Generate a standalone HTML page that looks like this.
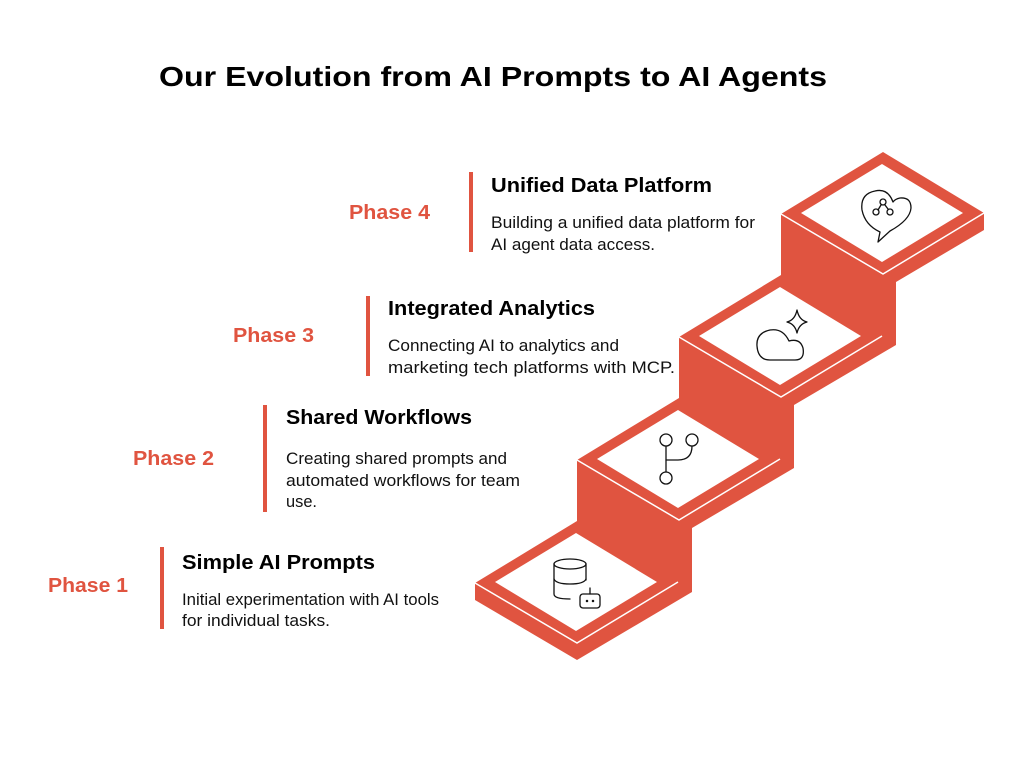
<!DOCTYPE html>
<html><head><meta charset="utf-8"><style>html,body{margin:0;padding:0;background:#fff}svg{display:block}</style></head><body>
<svg width="1030" height="767" viewBox="0 0 1030 767" xmlns="http://www.w3.org/2000/svg" font-family="Liberation Sans, Arial, sans-serif">
<rect width="1030" height="767" fill="#fff"/>
<text x="493" y="86" text-anchor="middle" font-size="28" font-weight="bold" fill="#000" textLength="668" lengthAdjust="spacingAndGlyphs">Our Evolution from AI Prompts to AI Agents</text>

<polygon fill="#E05440" points="475,583 577,521 577,460 679,398 679,337 781,275 781,214 883,152 984,213 984,230 896,282 896,345 794,405 794,468 692,528 692,592 577,660 475,600"/>
<g fill="none" stroke="#fff" stroke-width="1.5">
<polyline points="475,583 577,643 678,582"/>
<polyline points="577,460 679,520 780,459"/>
<polyline points="679,337 781,397 882,336"/>
<polyline points="781,214 883,274 984,213"/>
</g>
<g fill="#fff">
<polygon points="495,582 576,533 657,582 576,631"/>
<polygon points="597,459 678,410 759,459 678,508"/>
<polygon points="699,336 780,287 861,336 780,385"/>
<polygon points="801,213 882,164 963,213 882,262"/>
</g>
<g fill="none" stroke="#111" stroke-width="1.3" stroke-linecap="round" stroke-linejoin="round">
<ellipse cx="570" cy="564" rx="16" ry="5"/>
<path d="M554,564 V594 Q554,599 570,599"/>
<path d="M586,564 V580"/>
<path d="M554,579 Q556,584 570,584 Q584,584 586,579"/>
<rect x="580" y="594" width="20" height="14" rx="3"/>
<path d="M590,594 V588"/>
<circle cx="587" cy="601" r="0.6" fill="#111"/><circle cx="593" cy="601" r="0.6" fill="#111"/>
<circle cx="666" cy="440" r="6"/><circle cx="692" cy="440" r="6"/><circle cx="666" cy="478" r="6"/>
<path d="M666,446 V472"/><path d="M692,446 Q692,460 678,460 H666"/>
<path d="M770,360 H795 Q805,360 803,348 Q800,338 789,341 Q783,328 770,330 Q756,333 757,346 Q758,360 770,360 Z"/>
<path d="M797,310 Q799,320 807,322 Q799,324 797,333 Q795,324 787,322 Q795,320 797,310 Z"/>
<path d="M880,232 L878,242 L890,231 Q910,220 911,208 Q911,197 900,198 Q895,199 893,202 Q888,188 875,191 Q860,194 862,210 Q865,225 880,232 Z"/>
<circle cx="876" cy="212" r="3"/><circle cx="883" cy="202" r="3"/><circle cx="890" cy="212" r="3"/>
<path d="M878,210 L881,205 M885,205 L888,209"/>
</g>

<g fill="#E05440">
<rect x="160" y="547" width="4" height="82"/>
<rect x="263" y="405" width="4" height="107"/>
<rect x="366" y="296" width="4" height="80"/>
<rect x="469" y="172" width="4" height="80"/>
</g>
<g font-size="20" font-weight="bold" fill="#E05440">
<text x="48" y="592" textLength="80" lengthAdjust="spacingAndGlyphs">Phase 1</text>
<text x="133" y="465" textLength="81" lengthAdjust="spacingAndGlyphs">Phase 2</text>
<text x="233" y="342" textLength="81" lengthAdjust="spacingAndGlyphs">Phase 3</text>
<text x="349" y="219" textLength="81" lengthAdjust="spacingAndGlyphs">Phase 4</text>
</g>
<g font-size="20" font-weight="bold" fill="#000">
<text x="182" y="569" textLength="193" lengthAdjust="spacingAndGlyphs">Simple AI Prompts</text>
<text x="286" y="424" textLength="186" lengthAdjust="spacingAndGlyphs">Shared Workflows</text>
<text x="388" y="315" textLength="207" lengthAdjust="spacingAndGlyphs">Integrated Analytics</text>
<text x="491" y="192" textLength="221" lengthAdjust="spacingAndGlyphs">Unified Data Platform</text>
</g>
<g font-size="17" fill="#111">
<text x="182" y="605" textLength="257" lengthAdjust="spacingAndGlyphs">Initial experimentation with AI tools</text>
<text x="182" y="626" textLength="148" lengthAdjust="spacingAndGlyphs">for individual tasks.</text>
<text x="286" y="464" textLength="221" lengthAdjust="spacingAndGlyphs">Creating shared prompts and</text>
<text x="286" y="486" textLength="234" lengthAdjust="spacingAndGlyphs">automated workflows for team</text>
<text x="286" y="507" textLength="31" lengthAdjust="spacingAndGlyphs">use.</text>
<text x="388" y="351" textLength="231" lengthAdjust="spacingAndGlyphs">Connecting AI to analytics and</text>
<text x="388" y="373" textLength="287" lengthAdjust="spacingAndGlyphs">marketing tech platforms with MCP.</text>
<text x="491" y="228" textLength="264" lengthAdjust="spacingAndGlyphs">Building a unified data platform for</text>
<text x="491" y="250" textLength="164" lengthAdjust="spacingAndGlyphs">AI agent data access.</text>
</g>
</svg>
</body></html>
